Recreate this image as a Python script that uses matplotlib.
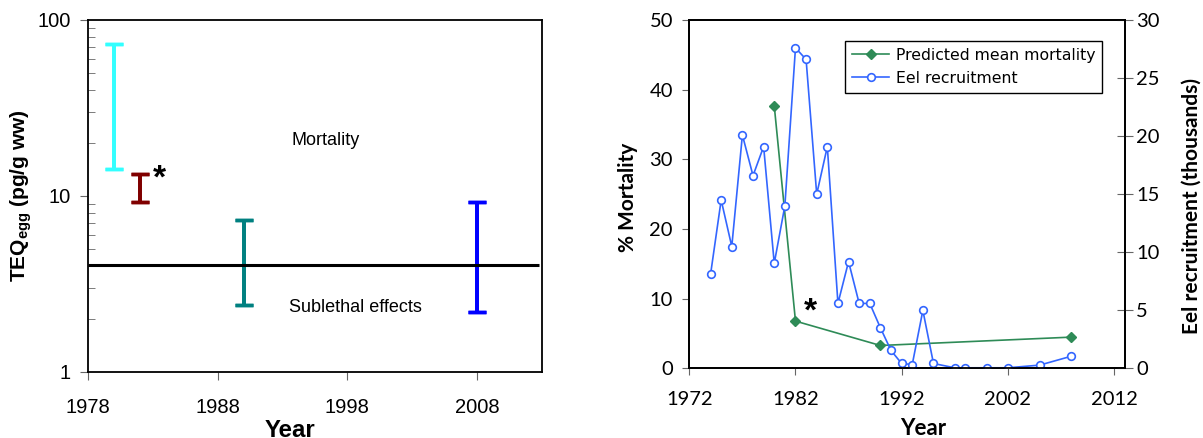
import matplotlib.pyplot as plt
import numpy as np

# TEQ ranges (left panel)
teq_years = [1980, 1982, 1990, 2008]
teq_low = [14.3, 9.3, 2.4, 2.2]
teq_high = [73.5, 13.3, 7.3, 9.2]
teq_colors = ['#33FFFF', '#800000', '#008080', '#0000FF']
threshold = 4.06

# predicted mortality and eel recruitment (right panel)
mort_years = [1980, 1982, 1990, 2008]
mort_values = [37.7, 6.8, 3.3, 4.5]
rec_years = [1974, 1975, 1976, 1977, 1978, 1979, 1980, 1981, 1982, 1983, 1984,
             1985, 1986, 1987, 1988, 1989, 1990, 1991, 1992, 1993, 1994, 1995,
             1997, 1998, 2000, 2002, 2005, 2008]
rec_values = [8.1, 14.5, 10.5, 20.1, 16.6, 19.1, 9.05, 14.0, 27.6, 26.6, 15.0,
              19.1, 5.6, 9.2, 5.6, 5.6, 3.5, 1.55, 0.43, 0.34, 5.0, 0.43,
              0.06, 0.06, 0.06, 0.06, 0.29, 1.06]

plt.rcParams['font.family'] = ['Liberation Sans', 'DejaVu Sans']
fig = plt.figure(figsize=(12.03, 4.38), dpi=100)
tick_col = '#666666'

# ---- left panel ----
ax1 = fig.add_axes([0.0734, 0.1507, 0.3769, 0.8037])
low = np.array(teq_low)
high = np.array(teq_high)
for x, lo, hi, c in zip(teq_years, low, high, teq_colors):
    ax1.errorbar([x], [lo], yerr=[[0], [hi - lo]], fmt='none', ecolor=c,
                 elinewidth=2.7, capsize=6.6, capthick=2.5)
    ax1.errorbar([x], [hi], yerr=[[hi - lo], [0]], fmt='none', ecolor=c,
                 elinewidth=2.7, capsize=6.6, capthick=2.5)
ax1.hlines(threshold, 1978, 2012.8, color='black', lw=2.2)
ax1.set_yscale('log')
ax1.set_ylim(1, 100)
ax1.set_xlim(1978, 2013)
ax1.set_xticks([1978, 1988, 1998, 2008])
ax1.set_yticks([1, 10, 100])
ax1.set_yticklabels(['1', '10', '100'])
ax1.tick_params(axis='both', which='major', direction='out', length=5.5,
                color=tick_col, labelsize=14.5)
ax1.tick_params(axis='y', which='major', pad=7)
ax1.tick_params(axis='x', which='major', pad=13)
ax1.tick_params(axis='y', which='minor', direction='in', length=4.8, color=tick_col)
ax1.yaxis.set_minor_formatter(plt.NullFormatter())
ax1.text(1996.3, 20.8, 'Mortality', fontsize=13, ha='center', va='center')
ax1.text(1998.65, 2.34, 'Sublethal effects', fontsize=13, ha='center', va='center')
ax1.text(1983.5, 11.2, '*', fontsize=24, fontweight='bold', ha='center', va='baseline')
ax1.set_ylabel(r'TEQ$_{\mathregular{egg}}$ (pg/g ww)', fontsize=15, fontweight='bold')
ax1.yaxis.set_label_coords(-0.12, 0.5)
ax1.set_xlabel('Year', fontsize=17.3, fontweight='bold', va='baseline')
ax1.xaxis.set_label_coords(0.445, -0.186)
for s in ax1.spines.values():
    s.set_linewidth(1.3)

# ---- right panel ----
ax = fig.add_axes([0.573, 0.1587, 0.3618, 0.7957])
ax2 = ax.twinx()
l1, = ax.plot(mort_years, mort_values, color='#2E8B57', marker='D', markersize=5.3,
              lw=1.2, label='Predicted mean mortality')
l2, = ax2.plot(rec_years, rec_values, color='#3366FF', marker='o', markersize=5.5,
               markerfacecolor='white', markeredgewidth=1.2, lw=1.2,
               label='Eel recruitment')
ax.set_xlim(1972, 2013)
ax.set_ylim(0, 50)
ax2.set_ylim(0, 30)
ax.set_xticks([1972, 1982, 1992, 2002, 2012])
ax.set_yticks([0, 10, 20, 30, 40, 50])
ax2.set_yticks([0, 5, 10, 15, 20, 25, 30])
ax.tick_params(axis='x', direction='out', length=5.3, color=tick_col, labelsize=14.5, pad=11)
ax.tick_params(axis='y', direction='out', length=4.8, color=tick_col, labelsize=14.5, pad=7)
ax2.tick_params(axis='y', direction='inout', length=11, color=tick_col, labelsize=14.5, pad=3)
for a in (ax, ax2):
    for lab in a.get_xticklabels() + a.get_yticklabels():
        lab.set_family('Lato')
ax.text(1983.4, 6.9, '*', fontsize=24, fontweight='bold', ha='center', va='baseline')
ax.set_ylabel('% Mortality', fontsize=15, fontweight='bold', family='Lato')
ax.yaxis.set_label_coords(-0.118, 0.49)
ax2.set_ylabel('Eel recruitment (thousands)', fontsize=15, fontweight='bold', family='Lato')
ax2.yaxis.set_label_coords(1.132, 0.465)
ax.set_xlabel('Year', fontsize=16, fontweight='bold', family='Lato', va='baseline')
ax.xaxis.set_label_coords(0.538, -0.191)
leg = ax.legend(handles=[l1, l2], loc='upper right', bbox_to_anchor=(0.949, 0.94),
                borderaxespad=0, fancybox=False, framealpha=1, edgecolor='black',
                handlelength=2.4, handletextpad=0.4, borderpad=0.45, labelspacing=0.5,
                prop={'family': 'DejaVu Sans', 'size': 11.3})
leg.get_frame().set_linewidth(1.0)
for a in (ax, ax2):
    for s in a.spines.values():
        s.set_linewidth(1.3)

fig.savefig('out.png', dpi=100)
